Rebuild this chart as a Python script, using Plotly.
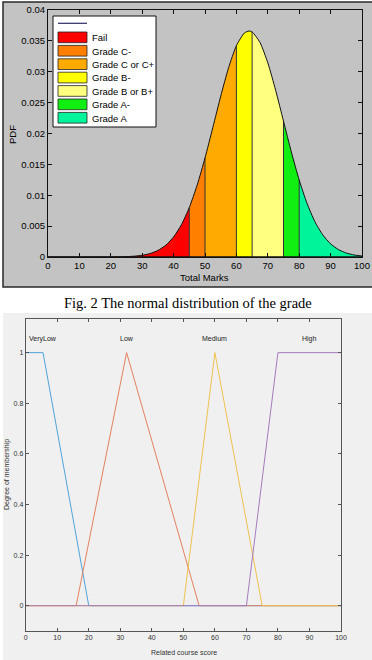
import plotly.graph_objects as go

W, H = 372, 660

# ---------------- data: top chart (normal distribution of total marks) ----------------
marks = [0, 20, 22.5, 25, 27.5, 30, 32.5, 35, 37.5, 40, 42.5, 45, 47.5, 50, 52.5, 55, 57.5, 60,
         62.5, 64, 65, 67.5, 70, 72.5, 75, 77.5, 80, 82.5, 85, 87.5, 90, 92.5, 95, 97.5, 100]
pdf = [0.0, 0.00001, 0.000026, 0.000061, 0.000134, 0.000282, 0.000562, 0.001063, 0.001905,
       0.003242, 0.005234, 0.008012, 0.01164, 0.01604, 0.02098, 0.02603, 0.03064, 0.03422,
       0.03626, 0.0366, 0.03645, 0.03476, 0.03145, 0.02700, 0.02200, 0.0170, 0.01246, 0.00867,
       0.00572, 0.00358, 0.00213, 0.00120, 0.000641, 0.000325, 0.000157]
grade_names = ["Fail", "Grade C-", "Grade C or C+", "Grade B-", "Grade B or B+", "Grade A-", "Grade A"]
grade_bounds = [0, 45, 50, 60, 65, 75, 80, 100]
grade_colors = ["#ff0000", "#ff7f00", "#ffaa00", "#ffff00", "#ffff80", "#11ee11", "#00f59a"]
top_xticks = [0, 10, 20, 30, 40, 50, 60, 70, 80, 90, 100]
top_yticks = [0, 0.005, 0.01, 0.015, 0.02, 0.025, 0.03, 0.035, 0.04]
top_yticktext = ["0", "0.005", "0.01", "0.015", "0.02", "0.025", "0.03", "0.035", "0.04"]

# ---------------- data: bottom chart (fuzzy membership functions) ----------------
mf_names = ["VeryLow", "Low", "Medium", "High"]
mf_x = [[0, 5.5, 20, 100], [0, 16, 32, 55, 100], [0, 50, 60, 75, 100], [0, 70, 80, 100]]
mf_y = [[1, 1, 0, 0], [0, 0, 1, 0, 0], [0, 0, 1, 0, 0], [0, 0, 1, 1]]
mf_label_x = [5.5, 32, 60, 90]
mf_colors = ["#4fa3d8", "#e3815f", "#efc24e", "#a57abd"]
bot_xticks = [0, 10, 20, 30, 40, 50, 60, 70, 80, 90, 100]
bot_yticks = [0, 0.2, 0.4, 0.6, 0.8, 1]


def px(x):
    return x / W


def py(y):
    return 1 - y / H


fig = go.Figure()

# --- top chart: filled grade segments ---
for i, name in enumerate(grade_names):
    lo, hi = grade_bounds[i], grade_bounds[i + 1]
    xs = [m for m in marks if lo <= m <= hi]
    ys = [pdf[marks.index(m)] for m in xs]
    fig.add_trace(go.Scatter(x=xs, y=ys, mode="lines", line=dict(width=0, shape="spline", smoothing=0.6),
                             fill="tozeroy", fillcolor=grade_colors[i], name=name,
                             showlegend=False, hoverinfo="skip", xaxis="x", yaxis="y"))
# boundary lines
for b in grade_bounds[1:-1]:
    v = pdf[marks.index(b)]
    fig.add_trace(go.Scatter(x=[b, b], y=[0, v], mode="lines", line=dict(color="#333333", width=1),
                             showlegend=False, hoverinfo="skip", xaxis="x", yaxis="y"))
# curve
fig.add_trace(go.Scatter(x=marks, y=pdf, mode="lines", line=dict(color="#111111", width=1, shape="spline", smoothing=0.6),
                         showlegend=False, hoverinfo="skip", xaxis="x", yaxis="y"))
# baseline
fig.add_trace(go.Scatter(x=[0, 100], y=[0, 0], mode="lines", line=dict(color="#111111", width=1.5),
                         showlegend=False, hoverinfo="skip", xaxis="x", yaxis="y"))

# --- bottom chart: membership functions ---
for i, name in enumerate(mf_names):
    fig.add_trace(go.Scatter(x=mf_x[i], y=mf_y[i], mode="lines", line=dict(color=mf_colors[i], width=1),
                             name=name, showlegend=False, hoverinfo="skip", xaxis="x2", yaxis="y2"))

shapes = []
annotations = []

# figure backgrounds
shapes.append(dict(type="rect", xref="paper", yref="paper", x0=px(3), x1=px(373), y0=py(287), y1=py(2),
                   fillcolor="#c3c3c3", line=dict(color="#2a2a2a", width=1.5), layer="below"))
shapes.append(dict(type="rect", xref="paper", yref="paper", x0=px(3), x1=px(372), y0=py(660), y1=py(313),
                   fillcolor="#f0f0f0", line=dict(width=0), layer="below"))

# legend (manual, compact like the MATLAB one)
shapes.append(dict(type="rect", xref="paper", yref="paper", x0=px(53), x1=px(156), y0=py(127), y1=py(16),
                   fillcolor="white", line=dict(color="#111111", width=1)))
shapes.append(dict(type="line", xref="paper", yref="paper", x0=px(58), x1=px(87), y0=py(23.3), y1=py(23.3),
                   line=dict(color="#2b2b66", width=1.2)))
for i, name in enumerate(grade_names):
    top = 32 + 13.4 * i
    shapes.append(dict(type="rect", xref="paper", yref="paper", x0=px(58), x1=px(87), y0=py(top + 10.7), y1=py(top),
                       fillcolor=grade_colors[i], line=dict(color="#222222", width=0.8)))
    annotations.append(dict(text=name, xref="paper", yref="paper", x=px(90), y=py(top + 5.6),
                            xanchor="left", yanchor="middle", showarrow=False,
                            font=dict(family="Liberation Sans, Arial", size=9.5, color="black")))

# axis titles and caption
annotations.append(dict(text="Total Marks", xref="paper", yref="paper", x=px(205), y=py(278),
                        xanchor="center", yanchor="middle", showarrow=False,
                        font=dict(family="Liberation Sans, Arial", size=9.5, color="black")))
annotations.append(dict(text="PDF", xref="paper", yref="paper", x=px(13), y=py(134), textangle=-90,
                        xanchor="center", yanchor="middle", showarrow=False,
                        font=dict(family="Liberation Sans, Arial", size=9.5, color="black")))
annotations.append(dict(text="Fig. 2 The normal distribution of the grade", xref="paper", yref="paper",
                        x=px(188), y=py(303), xanchor="center", yanchor="middle", showarrow=False,
                        font=dict(family="Liberation Serif, Times New Roman", size=14.5, color="black")))
annotations.append(dict(text="Degree of membership", xref="paper", yref="paper", x=px(7), y=py(475), textangle=-90,
                        xanchor="center", yanchor="middle", showarrow=False,
                        font=dict(family="Liberation Sans, Arial", size=7, color="#333333")))
annotations.append(dict(text="Related course score", xref="paper", yref="paper", x=px(184), y=py(652),
                        xanchor="center", yanchor="middle", showarrow=False,
                        font=dict(family="Liberation Sans, Arial", size=7, color="#333333")))
for i, name in enumerate(mf_names):
    annotations.append(dict(text=name, xref="x2", yref="y2", x=mf_label_x[i], y=1.055,
                            xanchor="center", yanchor="middle", showarrow=False,
                            font=dict(family="Liberation Sans, Arial", size=7, color="#222222")))

axis_top = dict(showgrid=False, zeroline=False, showline=True, linecolor="#111111", linewidth=1,
                mirror="ticks", ticks="inside", ticklen=4, tickcolor="#111111", automargin=False,
                tickfont=dict(family="Liberation Sans, Arial", size=9.5, color="black"))
axis_bot = dict(showgrid=False, zeroline=False, showline=True, linecolor="#555555", linewidth=1,
                mirror="ticks", ticks="inside", ticklen=3, tickcolor="#555555", automargin=False,
                tickfont=dict(family="Liberation Sans, Arial", size=7, color="#333333"))

fig.update_layout(
    width=W, height=H, margin=dict(l=0, r=0, t=0, b=0, pad=0), autosize=False,
    paper_bgcolor="white", plot_bgcolor="white", showlegend=False,
    xaxis=dict(domain=[px(48), px(362)], range=[0, 100], tickvals=top_xticks, anchor="y", **axis_top),
    yaxis=dict(domain=[py(257), py(10)], range=[0, 0.04], tickvals=top_yticks, ticktext=top_yticktext,
               anchor="x", **axis_top),
    xaxis2=dict(domain=[px(25.7), px(341)], range=[0, 100], tickvals=bot_xticks, anchor="y2", **axis_bot),
    yaxis2=dict(domain=[py(631), py(319)], range=[-0.1, 1.133], tickvals=bot_yticks, anchor="x2", **axis_bot),
    shapes=shapes, annotations=annotations,
)

fig.write_html("out.html")
